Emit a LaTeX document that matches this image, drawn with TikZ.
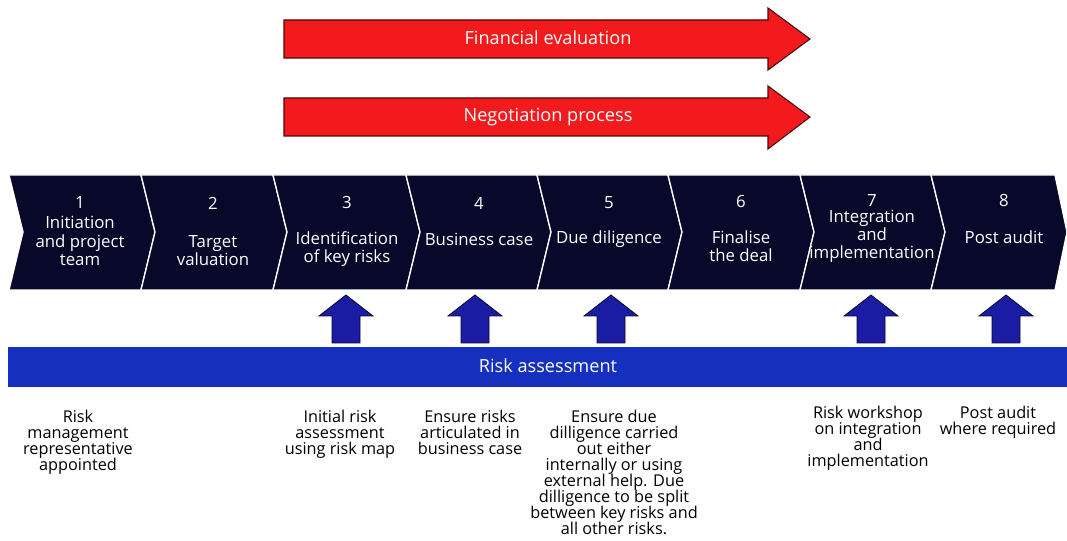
\documentclass[tikz,border=0pt]{standalone}
\usepackage{fontspec}
\setmainfont{Open Sans}
\definecolor{nuit}{HTML}{08082A}
\definecolor{rouge}{HTML}{F21A1C}
\definecolor{rougefonce}{HTML}{4A0808}
\definecolor{bleufleche}{HTML}{1A1CA4}
\definecolor{bleubande}{HTML}{1530BE}
\tikzset{
  etape/.style={text=white, align=center, inner sep=0pt,
    font=\fontsize{12.6}{13.6}\selectfont},
  bandeau/.style={text=white, inner sep=0pt,
    font=\fontsize{13.6}{14}\selectfont},
  chevron/.style={fill=nuit, draw=white, line width=1pt},
  note/.style={anchor=north, align=center, inner sep=0pt,
    font={\fontsize{12.2}{12}\selectfont\lineskiplimit=-6pt\relax}},
}
\begin{document}
\begin{tikzpicture}[x=0.75pt, y=-0.75pt]
  \useasboundingbox (0,0) rectangle (1067,541);
  % Fl\`eches rouges
  \filldraw[fill=rouge, draw=rougefonce, line width=0.8pt] (284,20) -- (768,20)
    -- (768,8) -- (810,39) -- (768,70) -- (768,58) -- (284,58) -- cycle;
  \node[bandeau] (finance) at (548,38) {Financial evaluation};
  \filldraw[fill=rouge, draw=rougefonce, line width=0.8pt] (284,98) -- (768,98)
    -- (768,86) -- (810,117) -- (768,149) -- (768,136) -- (284,136) -- cycle;
  \node[bandeau] (negociation) at (548,117) {Negotiation process};
  % Chevrons des \'etapes
  \draw[chevron] (9,175) -- (141,175) -- (155,232) -- (141,290) -- (9,290) -- (23,232) -- cycle;
  \draw[chevron] (141,175) -- (273,175) -- (287,232) -- (273,290) -- (141,290) -- (155,232) -- cycle;
  \draw[chevron] (273,175) -- (406,175) -- (420,232) -- (406,290) -- (273,290) -- (287,232) -- cycle;
  \draw[chevron] (406,175) -- (537,175) -- (551,232) -- (537,290) -- (406,290) -- (420,232) -- cycle;
  \draw[chevron] (537,175) -- (668,175) -- (682,232) -- (668,290) -- (537,290) -- (551,232) -- cycle;
  \draw[chevron] (668,175) -- (800,175) -- (814,232) -- (800,290) -- (668,290) -- (682,232) -- cycle;
  \draw[chevron] (800,175) -- (931,175) -- (945,232) -- (931,290) -- (800,290) -- (814,232) -- cycle;
  \draw[chevron] (931,175) -- (1055,175) -- (1067,232) -- (1055,290) -- (931,290) -- (945,232) -- cycle;
  % Num\'eros et titres
  \node[etape] (num1) at (80,203) {1};
  \node[etape] (etape1) at (80,241) {Initiation\\and project\\team};
  \node[etape] (num2) at (213,203) {2};
  \node[etape] (etape2) at (213,251) {Target\\valuation};
  \node[etape] (num3) at (347,203) {3};
  \node[etape] (etape3) at (347,249) {Identification\\of key risks};
  \node[etape] (num4) at (479,203) {4};
  \node[etape] (etape4) at (479,239) {Business case};
  \node[etape] (num5) at (609,203) {5};
  \node[etape] (etape5) at (609,239) {Due diligence};
  \node[etape] (num6) at (741,202) {6};
  \node[etape] (etape6) at (741,246) {Finalise\\the deal};
  \node[etape] (num7) at (872,201) {7};
  \node[etape] (etape7) at (872,236) {Integration\\and\\implementation};
  \node[etape] (num8) at (1004,201) {8};
  \node[etape] (etape8) at (1004,237) {Post audit};
  % Fl\`eches bleues vers le haut
  \foreach \cx in {346,475,611,871,1006}
    \filldraw[fill=bleufleche, draw=nuit, line width=0.6pt]
      (\cx-14,343) -- (\cx-14,316) -- (\cx-27,316) -- (\cx,295)
      -- (\cx+27,316) -- (\cx+14,316) -- (\cx+14,343) -- cycle;
  % Bande d'\'evaluation des risques
  \fill[bleubande] (8,347) rectangle (1067,387);
  \node[bandeau] (risque) at (548,366) {Risk assessment};
  % Notes sous la bande
  \node[note] (note1) at (78,410) {Risk\\management\\representative\\appointed};
  \node[note] (note3) at (340,410) {Initial risk\\assessment\\using risk map};
  \node[note] (note4) at (470,410) {Ensure risks\\articulated in\\business case};
  \node[note] (note5) at (614,410) {Ensure due\\dilligence carried\\out either\\internally or using\\external help. Due\\dilligence to be split\\between key risks and\\all other risks.};
  \node[note] (note7) at (868,406) {Risk workshop\\on integration\\and\\implementation};
  \node[note] (note8) at (998,406) {Post audit\\where required};
\end{tikzpicture}
\end{document}
